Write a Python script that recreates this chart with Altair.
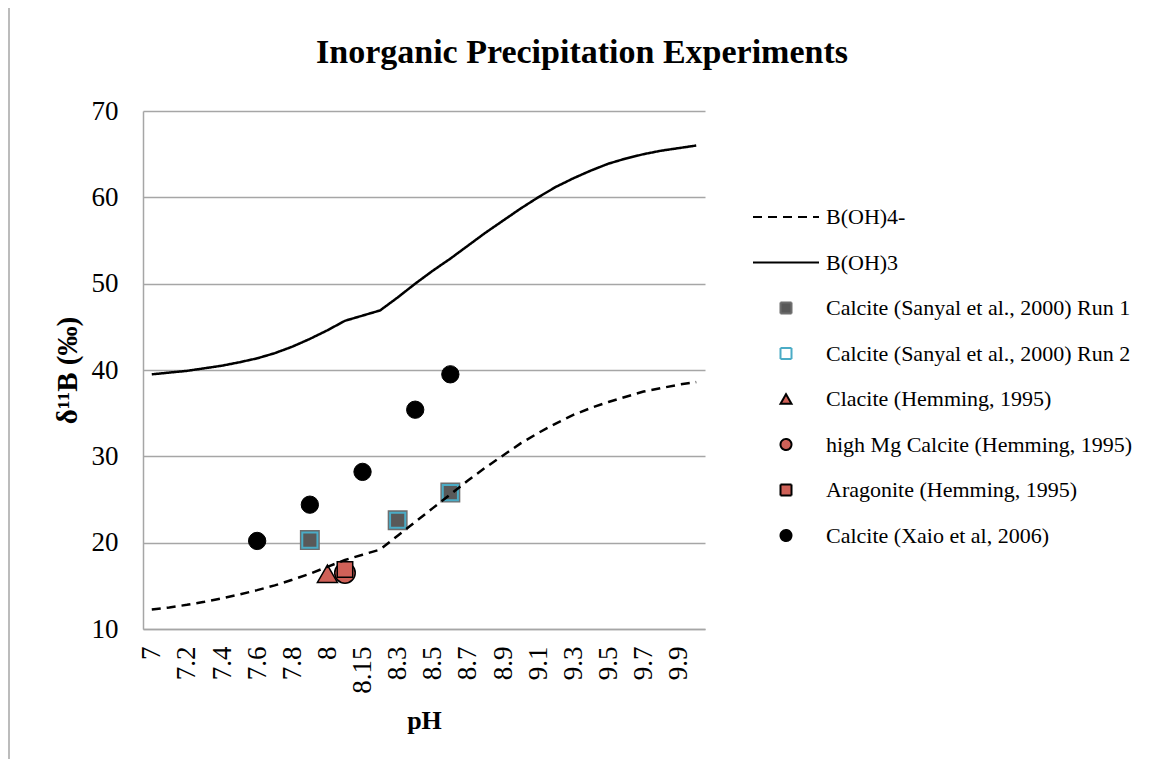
import altair as alt
import pandas as pd

# ---- data ----
categories = ["7", "7.1", "7.2", "7.3", "7.4", "7.5", "7.6", "7.7", "7.8", "7.9",
              "8", "8.1", "8.15", "8.2", "8.3", "8.4", "8.5", "8.6", "8.7", "8.8",
              "8.9", "9", "9.1", "9.2", "9.3", "9.4", "9.5", "9.6", "9.7", "9.8",
              "9.9", "10"]
tick_labels = ["7", "7.2", "7.4", "7.6", "7.8", "8", "8.15", "8.3", "8.5", "8.7",
               "8.9", "9.1", "9.3", "9.5", "9.7", "9.9"]

boh4 = [12.25, 12.5, 12.8, 13.15, 13.55, 14.0, 14.5, 15.05, 15.7, 16.4,
        17.2, 18.0, 18.6, 19.2, 20.8, 22.4, 24.0, 25.6, 27.2, 28.7,
        30.1, 31.5, 32.7, 33.8, 34.8, 35.6, 36.3, 36.9, 37.5, 37.9,
        38.3, 38.6]
boh3 = [39.5, 39.7, 39.9, 40.2, 40.5, 40.9, 41.35, 41.95, 42.7, 43.6,
        44.6, 45.7, 46.3, 46.9, 48.4, 50.0, 51.5, 52.9, 54.4, 55.9,
        57.3, 58.7, 60.0, 61.2, 62.2, 63.1, 63.9, 64.5, 65.0, 65.4,
        65.7, 66.0]

series_names = ["B(OH)4-", "B(OH)3",
                "Calcite (Sanyal et al., 2000) Run 1",
                "Calcite (Sanyal et al., 2000) Run 2",
                "Clacite (Hemming, 1995)",
                "high Mg Calcite (Hemming, 1995)",
                "Aragonite (Hemming, 1995)",
                "Calcite (Xaio et al, 2006)"]

sanyal_ph = ["7.9", "8.3", "8.6"]
sanyal_run1 = [20.3, 22.6, 25.8]
sanyal_run2 = [20.3, 22.6, 25.8]
hem_calcite_ph = ["8"]
hem_calcite = [16.4]
hem_hmg_ph = ["8.1"]
hem_hmg = [16.5]
hem_arag_ph = ["8.1"]
hem_arag = [16.9]
xiao_ph = ["7.6", "7.9", "8.15", "8.4", "8.6"]
xiao = [20.2, 24.4, 28.2, 35.4, 39.5]

# ---- tables ----
lines_df = pd.concat([
    pd.DataFrame({"cat": categories, "idx": list(range(len(categories))),
                  "value": boh4, "series": series_names[0]}),
    pd.DataFrame({"cat": categories, "idx": list(range(len(categories))),
                  "value": boh3, "series": series_names[1]}),
], ignore_index=True)

points_df = pd.concat([
    pd.DataFrame({"cat": sanyal_ph, "value": sanyal_run1, "series": series_names[2]}),
    pd.DataFrame({"cat": sanyal_ph, "value": sanyal_run2, "series": series_names[3]}),
    pd.DataFrame({"cat": hem_calcite_ph, "value": hem_calcite, "series": series_names[4]}),
    pd.DataFrame({"cat": hem_hmg_ph, "value": hem_hmg, "series": series_names[5]}),
    pd.DataFrame({"cat": hem_arag_ph, "value": hem_arag, "series": series_names[6]}),
    pd.DataFrame({"cat": xiao_ph, "value": xiao, "series": series_names[7]}),
], ignore_index=True)

# ---- styles ----
coral = "#CF6158"
fill_range = ["transparent", "transparent", "#595959", "transparent", coral, coral, coral, "#000000"]
stroke_range = ["#000000", "#000000", "#6E6E6E", "#4BACC6", "#000000", "#000000", "#000000", "#000000"]
line_path = "M-6,0H6"
shape_range = [line_path, line_path, "square", "square", "triangle-up", "circle", "square", "circle"]
dash_range = [[9, 6], [1, 0], [1, 0], [1, 0], [1, 0], [1, 0], [1, 0], [1, 0]]

leg = alt.Legend(orient="none", legendX=632, legendY=95, title=None)

x_enc = alt.X("cat:O", scale=alt.Scale(domain=categories),
              axis=alt.Axis(values=tick_labels, title="pH", labelAngle=270,
                            labelPadding=17, titlePadding=14, ticks=False))
y_enc = alt.Y("value:Q", scale=alt.Scale(domain=[10, 70], nice=False, zero=False),
              axis=alt.Axis(values=[10, 20, 30, 40, 50, 60, 70], title="δ¹¹B (‰)",
                            ticks=False, labelPadding=25, titlePadding=9,
                            titleFontSize=29))
fill_enc = alt.Fill("series:N", scale=alt.Scale(domain=series_names, range=fill_range), legend=leg)
stroke_enc = alt.Stroke("series:N", scale=alt.Scale(domain=series_names, range=stroke_range), legend=leg)
shape_enc = alt.Shape("series:N", scale=alt.Scale(domain=series_names, range=shape_range), legend=leg)
dash_enc = alt.StrokeDash("series:N", scale=alt.Scale(domain=series_names, range=dash_range), legend=leg)

base_pts = alt.Chart(points_df)


def pts(name, size, sw):
    return base_pts.transform_filter(alt.datum.series == name).mark_point(
        filled=True, size=size, strokeWidth=sw, opacity=1
    ).encode(x=x_enc, y=y_enc, fill=fill_enc, stroke=stroke_enc, shape=shape_enc)


run1 = pts(series_names[2], 340, 1.5)
run2 = pts(series_names[3], 230, 2)
hem1 = pts(series_names[4], 400, 1.5)
hem2 = pts(series_names[5], 420, 1.5)
hem3 = pts(series_names[6], 240, 1.5)
xia = pts(series_names[7], 300, 1)

lines = alt.Chart(lines_df).mark_line(strokeWidth=2.5).encode(
    x=x_enc, y=y_enc, stroke=stroke_enc, strokeDash=dash_enc,
    order=alt.Order("idx:Q"),
)

frame = alt.Chart(pd.DataFrame({"k": [0]})).mark_rule(color="#A6A6A6", strokeWidth=1.5).encode(
    x=alt.value(-134), y=alt.value(-103), y2=alt.value(655)
)

chart = alt.layer(run1, run2, hem1, hem2, hem3, xia, lines, frame).properties(
    width=562, height=518,
    title=alt.TitleParams("Inorganic Precipitation Experiments", fontSize=34,
                          fontWeight="bold", font="Liberation Serif", anchor="middle",
                          baseline="alphabetic", dx=158, dy=90, offset=0,
                          color="#000000"),
    padding={"left": 135, "top": 103, "right": 437, "bottom": 130},
    autosize=alt.AutoSizeParams(type="none"),
).configure(
    font="Liberation Serif",
).configure_view(
    stroke="transparent",
).configure_axis(
    labelFont="Liberation Serif", labelFontSize=27, labelColor="#000000",
    titleFont="Liberation Serif", titleFontSize=26, titleFontWeight="bold", titleColor="#000000",
    domainColor="#A6A6A6", domainWidth=1.5, gridColor="#A6A6A6", gridWidth=1.5,
).configure_axisX(grid=False).configure_legend(
    labelFont="Liberation Serif", labelFontSize=22, labelColor="#000000",
    symbolSize=121, symbolStrokeWidth=2, rowPadding=23.5, labelOffset=29,
    padding=0, labelLimit=400,
)

chart.save("out.html", embed_options={"renderer": "svg", "actions": False})
